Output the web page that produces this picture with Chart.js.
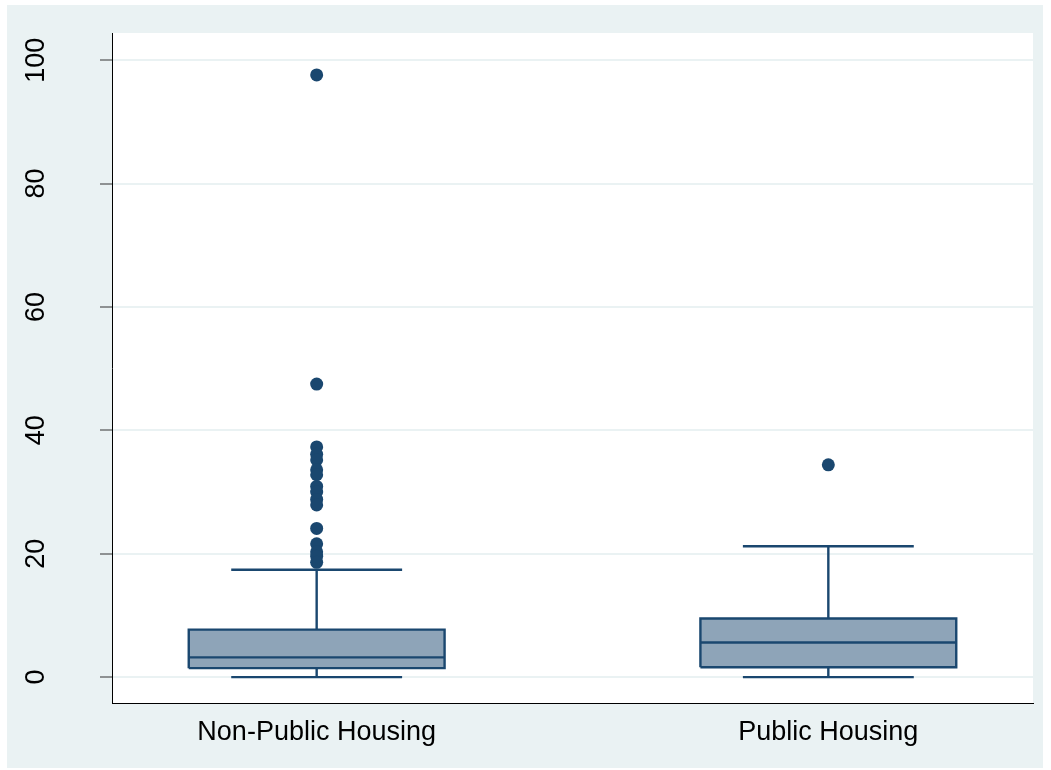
<!DOCTYPE html>
<html>
<head>
<meta charset="utf-8">
<script src="https://cdn.jsdelivr.net/npm/chart.js@4/dist/chart.umd.min.js"></script>
<style>
  html, body { margin: 0; padding: 0; background: #ffffff; }
  #wrap { position: absolute; left: 7px; top: 5px; width: 1036px; height: 763px; background: #EAF2F3; }
  canvas { display: block; }
</style>
</head>
<body>
<div id="wrap"><canvas id="c" width="1036" height="763"></canvas></div>
<script>
// ---- data ----
const categories = ['Non-Public Housing', 'Public Housing'];
const lowerWhisker = [0, 0];
const q1 = [1.45, 1.6];
const median = [3.2, 5.6];
const q3 = [7.7, 9.5];
const upperWhisker = [17.4, 21.2];
const outliersNonPublic = [97.6, 47.5, 37.3, 36.1, 35.2, 33.6, 32.8, 30.9, 30.0, 28.8, 27.9, 24.1, 21.6, 20.3, 19.6, 18.6];
const outliersPublic = [34.4];
const yTickLabels = ['0', '20', '40', '60', '80', '100'];

// ---- styles ----
const NAVY = '#1A476F';
const BOXFILL = '#8EA4B8';
const BOX_HALF = 0.25;
const CAP_HALF = 0.167;
const LW = 2.4;

const outliers = [outliersNonPublic, outliersPublic];
const datasets = [];

// outliers (first => drawn on top)
outliers.forEach((arr, i) => {
  datasets.push({
    type: 'line', showLine: false,
    data: arr.map(v => ({ x: i + 1, y: v })),
    pointRadius: 6.5, pointHoverRadius: 6.5,
    pointBackgroundColor: NAVY, pointBorderColor: NAVY, pointBorderWidth: 0
  });
});

function seg(points) {
  return {
    type: 'line', data: points, borderColor: NAVY, borderWidth: LW,
    pointRadius: 0, tension: 0, fill: false
  };
}

categories.forEach((c, i) => {
  const x = i + 1;
  datasets.push(seg([{ x: x - BOX_HALF, y: median[i] }, { x: x + BOX_HALF, y: median[i] }]));
  datasets.push(seg([{ x: x, y: q3[i] }, { x: x, y: upperWhisker[i] }]));
  datasets.push(seg([{ x: x - CAP_HALF, y: upperWhisker[i] }, { x: x + CAP_HALF, y: upperWhisker[i] }]));
  datasets.push(seg([{ x: x, y: q1[i] }, { x: x, y: lowerWhisker[i] }]));
  datasets.push(seg([{ x: x - CAP_HALF, y: lowerWhisker[i] }, { x: x + CAP_HALF, y: lowerWhisker[i] }]));
  const box = seg([
    { x: x - BOX_HALF, y: q1[i] }, { x: x + BOX_HALF, y: q1[i] },
    { x: x + BOX_HALF, y: q3[i] }, { x: x - BOX_HALF, y: q3[i] },
    { x: x - BOX_HALF, y: q1[i] }
  ]);
  box.fill = 'shape';
  box.backgroundColor = BOXFILL;
  datasets.push(box);
});

const plotBg = {
  id: 'plotBg',
  beforeDraw(chart) {
    const a = chart.chartArea, ctx = chart.ctx;
    ctx.save();
    ctx.fillStyle = '#ffffff';
    ctx.fillRect(a.left, a.top, a.right - a.left, a.bottom - a.top);
    ctx.restore();
  }
};

const FONT = { family: '"Liberation Sans", Arial, sans-serif', size: 27 };

new Chart(document.getElementById('c'), {
  type: 'line',
  data: { datasets },
  plugins: [plotBg],
  options: {
    responsive: false,
    animation: false,
    devicePixelRatio: 1,
    layout: { padding: { top: 28, right: 10, left: 0, bottom: 0 } },
    plugins: { legend: { display: false }, tooltip: { enabled: false } },
    scales: {
      x: {
        type: 'linear', min: 0.6, max: 2.4,
        grid: { display: false, drawTicks: false },
        border: { display: true, color: '#000000', width: 1 },
        afterBuildTicks(scale) { scale.ticks = categories.map((c, i) => ({ value: i + 1 })); },
        afterFit(scale) { scale.height = 65; scale.paddingLeft = 0; scale.paddingRight = 0; },
        ticks: {
          autoSkip: false, maxRotation: 0, minRotation: 0, padding: 13,
          color: '#000000', font: FONT,
          callback: (v) => categories[Math.round(v) - 1] || ''
        }
      },
      y: {
        type: 'linear', min: -4.2, max: 104.4,
        grid: { color: '#EAF2F3', lineWidth: 2, tickColor: '#333333', tickLength: 12, tickWidth: 1 },
        border: { display: true, color: '#000000', width: 1 },
        afterBuildTicks(scale) { scale.ticks = yTickLabels.map(t => ({ value: Number(t) })); },
        afterFit(scale) { scale.width = 105; scale.paddingTop = 0; scale.paddingBottom = 0; },
        ticks: {
          autoSkip: false, minRotation: 90, maxRotation: 90, padding: 41, crossAlign: 'center',
          color: '#000000', font: FONT,
          callback: (v) => String(v)
        }
      }
    }
  }
});
</script>
</body>
</html>
